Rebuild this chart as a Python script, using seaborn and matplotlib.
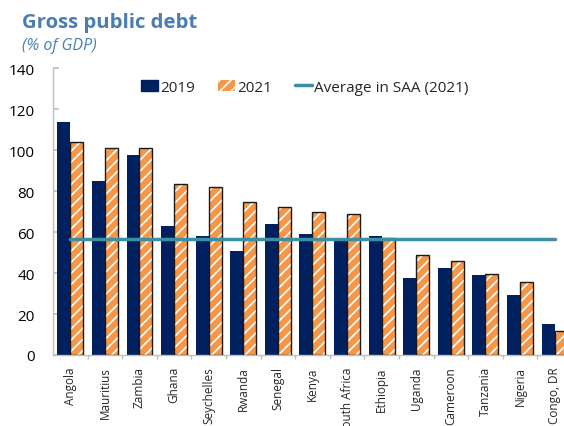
import matplotlib
matplotlib.use("Agg")
import matplotlib.pyplot as plt
from matplotlib.patches import Rectangle, Patch
from matplotlib.lines import Line2D
import seaborn as sns
import pandas as pd
import numpy as np

countries = ["Angola", "Mauritius", "Zambia", "Ghana", "Seychelles", "Rwanda",
             "Senegal", "Kenya", "South Africa", "Ethiopia", "Uganda", "Cameroon",
             "Tanzania", "Nigeria", "Congo, DR"]
debt_2019 = [114, 85, 97.7, 63, 58.2, 50.6, 64.1, 59.2, 56.8, 58.1, 37.5, 42.6, 39.3, 29.5, 15.2]
debt_2021 = [104, 101.1, 101, 83.7, 82, 74.9, 72.1, 69.8, 69, 57.1, 49.1, 45.9, 39.8, 35.7, 11.9]
ssa_average_2021 = 56.8
years = ["2019", "2021"]

navy = "#002060"
orange = "#F79646"
teal = "#3A8FA3"
title_blue = "#4A7EB0"

df = pd.DataFrame({
    "country": countries * 2,
    "year": [years[0]] * len(countries) + [years[1]] * len(countries),
    "debt": debt_2019 + debt_2021,
})

sns.set_theme(style="white")
plt.rcParams["font.family"] = ["Open Sans", "DejaVu Sans"]
plt.rcParams["hatch.linewidth"] = 1.2

fig = plt.figure(figsize=(5.64, 4.27), dpi=100)
ax = fig.add_axes([0.094, 0.1663, 0.920, 0.671])

sns.barplot(data=df, x="country", y="debt", hue="year", order=countries,
            hue_order=years, palette=[navy, orange], width=0.75,
            saturation=1, ax=ax, legend=False, linewidth=0)

# 2021 bars: white diagonal hatch over orange, with a dark outline
n = len(countries)
for patch in ax.patches[n:2 * n]:
    patch.set_hatch("///")
    patch.set_edgecolor("white")
    patch.set_linewidth(0)
    ax.add_patch(Rectangle(patch.get_xy(), patch.get_width(), patch.get_height(),
                           fill=False, edgecolor="#1a1a1a", linewidth=1.0, zorder=3))

ax.plot([0, n - 1], [ssa_average_2021, ssa_average_2021], color=teal, lw=2.5, zorder=4)

ax.set_ylim(0, 140)
ax.set_xlim(-0.5, n - 0.5)
ax.set_yticks(np.arange(0, 141, 20))
ax.tick_params(axis="y", labelsize=11, length=4, color="#bfbfbf", direction="in",
               left=True, pad=13, labelcolor="black")
ax.set_xticks(range(n))
ax.set_xticklabels(countries, rotation=90, fontsize=8.5, va="top")
ax.set_xticks(np.arange(0.5, n - 0.5, 1), minor=True)
ax.tick_params(axis="x", which="major", length=0, pad=8)
ax.tick_params(axis="x", which="minor", length=3, color="#bfbfbf", bottom=True)
ax.set_xlabel("")
ax.set_ylabel("")
for side in ["top", "right"]:
    ax.spines[side].set_visible(False)
for side in ["left", "bottom"]:
    ax.spines[side].set_color("#bfbfbf")
    ax.spines[side].set_linewidth(1)

handles = [
    Patch(facecolor=navy, edgecolor=navy),
    Patch(facecolor=orange, edgecolor="white", hatch="///", linewidth=0),
    Line2D([], [], color=teal, lw=2.5),
]
leg = ax.legend(handles, ["2019", "2021", "Average in SAA (2021)"], ncol=3,
                loc="center", bbox_to_anchor=(0.4846, 0.935), frameon=False,
                fontsize=11, handlelength=1.15, handletextpad=0.1, columnspacing=1.5)

fig.text(0.039, 0.934, "Gross public debt", fontsize=14.7, fontweight="bold",
         color=title_blue, ha="left", va="baseline")
fig.text(0.039, 0.882, "(% of GDP)", fontsize=11.5, fontstyle="italic",
         color=title_blue, ha="left", va="baseline")

fig.savefig("out.png", dpi=100)
